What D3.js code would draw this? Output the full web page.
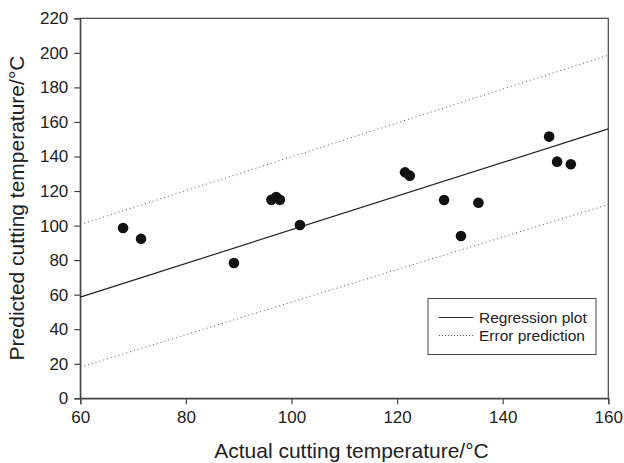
<!DOCTYPE html>
<html>
<head>
<meta charset="utf-8">
<script src="https://cdn.jsdelivr.net/npm/d3@7"></script>
<style>
  body { margin: 0; background: #fff; }
  svg text { font-family: "Liberation Sans", Arial, sans-serif; fill: #222; }
</style>
</head>
<body>
<svg id="chart" width="624" height="463"></svg>
<script>
// measured points: actual vs predicted cutting temperature
const actual    = [68.1, 71.5, 89.1, 96.2, 97.1, 97.8, 101.6, 121.5, 122.4, 128.9, 132.1, 135.4, 148.8, 150.3, 152.9];
const predicted = [98.6, 92.3, 78.3, 114.9, 116.5, 114.9, 100.3, 130.8, 128.9, 114.8, 94.0, 113.2, 151.5, 137.0, 135.5];

// line end points at x = 60 and x = 160
const lineX      = [60, 160];
const regression = [58.6, 156.0];
const errorUpper = [100.6, 198.6];
const errorLower = [18.0, 112.2];

const xTicks = [60, 80, 100, 120, 140, 160];
const yTicks = [0, 20, 40, 60, 80, 100, 120, 140, 160, 180, 200, 220];

const legendItems = ["Regression plot", "Error prediction"];

const svg = d3.select("#chart");
const margin = { left: 80.3, top: 18.3, right: 624 - 608.3, bottom: 463 - 398.3 };
const w = 624 - margin.left - margin.right,
      h = 463 - margin.top - margin.bottom;

const x = d3.scaleLinear().domain([60, 160]).range([0, w]);
const y = d3.scaleLinear().domain([0, 220]).range([h, 0]);

const g = svg.append("g").attr("transform", `translate(${margin.left},${margin.top})`);

// frame
g.append("rect")
  .attr("width", w).attr("height", h)
  .attr("fill", "none").attr("stroke", "#444").attr("stroke-width", 1.2);

const xAxis = g.append("g")
  .attr("transform", `translate(0,${h})`)
  .call(d3.axisBottom(x).tickValues(xTicks).tickSize(6).tickPadding(7));
const yAxis = g.append("g")
  .call(d3.axisLeft(y).tickValues(yTicks).tickSize(6).tickPadding(6));

[xAxis, yAxis].forEach(a => {
  a.select(".domain").attr("stroke", "#444").attr("stroke-width", 1.2);
  a.selectAll(".tick line").attr("stroke", "#444").attr("stroke-width", 1.2);
  a.selectAll("text").attr("font-size", 17).attr("fill", "#222");
});

const line = d3.line().x(d => x(d[0])).y(d => y(d[1]));

g.append("path")
  .datum(d3.zip(lineX, regression))
  .attr("d", line).attr("fill", "none")
  .attr("stroke", "#222").attr("stroke-width", 1.2);

[errorUpper, errorLower].forEach(ys => {
  g.append("path")
    .datum(d3.zip(lineX, ys))
    .attr("d", line).attr("fill", "none")
    .attr("stroke", "#555").attr("stroke-width", 1)
    .attr("stroke-dasharray", "1,3");
});

g.selectAll("circle.pt")
  .data(d3.zip(actual, predicted))
  .enter().append("circle")
  .attr("class", "pt")
  .attr("cx", d => x(d[0])).attr("cy", d => y(d[1]))
  .attr("r", 5.3).attr("fill", "#111");

// legend
const lg = svg.append("g").attr("transform", "translate(428,298.5)");
lg.append("rect")
  .attr("width", 168).attr("height", 56)
  .attr("fill", "#fff").attr("stroke", "#444").attr("stroke-width", 1);
legendItems.forEach((t, i) => {
  const yy = 19 + i * 18;
  lg.append("line")
    .attr("x1", 11).attr("x2", 45).attr("y1", yy).attr("y2", yy)
    .attr("stroke", i ? "#555" : "#222").attr("stroke-width", 1)
    .attr("stroke-dasharray", i ? "1,2" : null);
  lg.append("text")
    .attr("x", 51).attr("y", yy + 5.5)
    .attr("font-size", 15.5)
    .text(t);
});

// axis titles
svg.append("text")
  .attr("x", 351.5).attr("y", 458)
  .attr("text-anchor", "middle").attr("font-size", 21)
  .text("Actual cutting temperature/°C");

svg.append("text")
  .attr("transform", "translate(24,208) rotate(-90)")
  .attr("text-anchor", "middle").attr("font-size", 21)
  .text("Predicted cutting temperature/°C");
</script>
</body>
</html>
